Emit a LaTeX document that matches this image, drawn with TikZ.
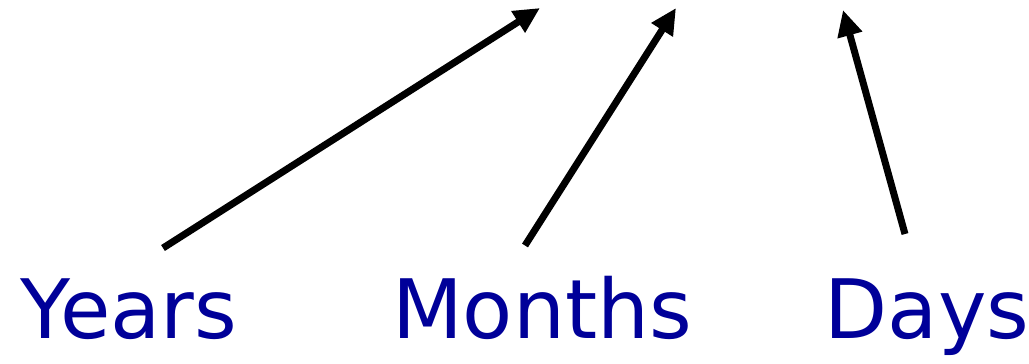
\documentclass[tikz,border=0pt]{standalone}
\usepackage{fontspec}
\setmainfont{DejaVu Sans}
\usetikzlibrary{arrows.meta}
\definecolor{wordblue}{HTML}{000099}

\begin{document}
\begin{tikzpicture}[
    x=1pt, y=-1pt,
    word/.style={anchor=base, inner sep=0pt, text=wordblue,
        font=\fontsize{82}{82}\selectfont},
    arrow/.style={-{Triangle[length=26pt, width=24pt]}, line width=7pt, draw=black}
]
\useasboundingbox (0,0) rectangle (1029,364);
\node[word] (years) at (129,338) {Years};
\node[word] (months) at (542,338) {Months};
\node[word] (days) at (927,338) {Days};
\coordinate (ytip) at (540,8);
\coordinate (mtip) at (676,8);
\coordinate (dtip) at (843,10);
\draw[arrow] ([xshift=34pt, yshift=30pt]years.north) -- (ytip);
\draw[arrow] ([xshift=-17pt, yshift=30pt]months.north) -- (mtip);
\draw[arrow] ([xshift=-22pt, yshift=44pt]days.north) -- (dtip);
\end{tikzpicture}
\end{document}
